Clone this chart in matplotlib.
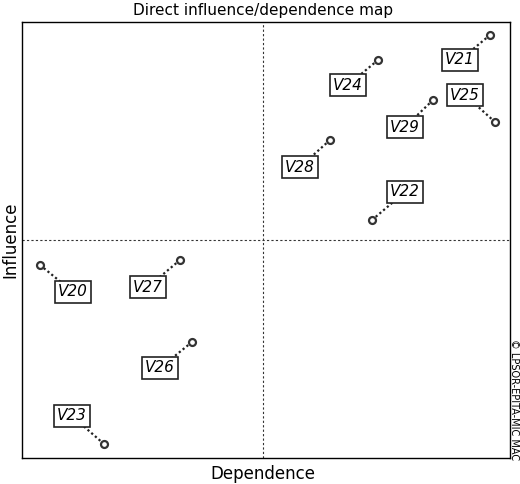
import matplotlib
matplotlib.use('Agg')
import matplotlib.pyplot as plt

# variable positions (dependence, influence) in map units, and label positions
names = ['V21', 'V24', 'V25', 'V29', 'V28', 'V22', 'V20', 'V27', 'V26', 'V23']
dep = [490, 378, 495, 433, 330, 372, 40, 180, 192, 104]
infl = [35, 60, 122, 100, 140, 220, 265, 260, 342, 444]
lab_x = [460, 348, 465, 405, 300, 405, 73, 148, 160, 72]
lab_y = [60, 85, 95, 127, 167, 192, 292, 287, 368, 416]

fig = plt.figure(figsize=(5.2, 4.84), dpi=100)
ax = fig.add_axes([22 / 520, 26 / 484, 488 / 520, 436 / 484])
ax.set_xlim(22, 510)
ax.set_ylim(458, 22)
ax.set_xticks([])
ax.set_yticks([])
for s in ax.spines.values():
    s.set_linewidth(1.0)

ax.axvline(263, color='#333', lw=0.8, ls=(0, (2, 2)))
ax.axhline(240, color='#333', lw=0.8, ls=(0, (2, 2)))

for n, x, y, lx, ly in zip(names, dep, infl, lab_x, lab_y):
    ax.plot([x, lx], [y, ly], color='#222', lw=1.6, ls=(0, (1, 1.2)), zorder=2)
    ax.plot(x, y, 'o', ms=5, mfc='white', mec='#333', mew=1.6, zorder=3)
    ax.text(lx, ly, n[0] + n[1:], fontsize=11, style='italic', ha='center', va='center',
            zorder=4, bbox=dict(boxstyle='square,pad=0.2', fc='white', ec='#222', lw=1.2))

fig.text(263 / 520, 1 - 10 / 484, 'Direct influence/dependence map', ha='center',
         va='center', fontsize=11)
fig.text(263 / 520, 1 - 474 / 484, 'Dependence', ha='center', va='center', fontsize=12)
fig.text(10 / 520, 1 - 240 / 484, 'Influence', ha='center', va='center', fontsize=12,
         rotation=90)
fig.text(514 / 520, 1 - 400 / 484, '© LPSOR-EPITA-MIC MAC', ha='center', va='center',
         fontsize=7, rotation=-90)

fig.savefig('out.png', dpi=100)
